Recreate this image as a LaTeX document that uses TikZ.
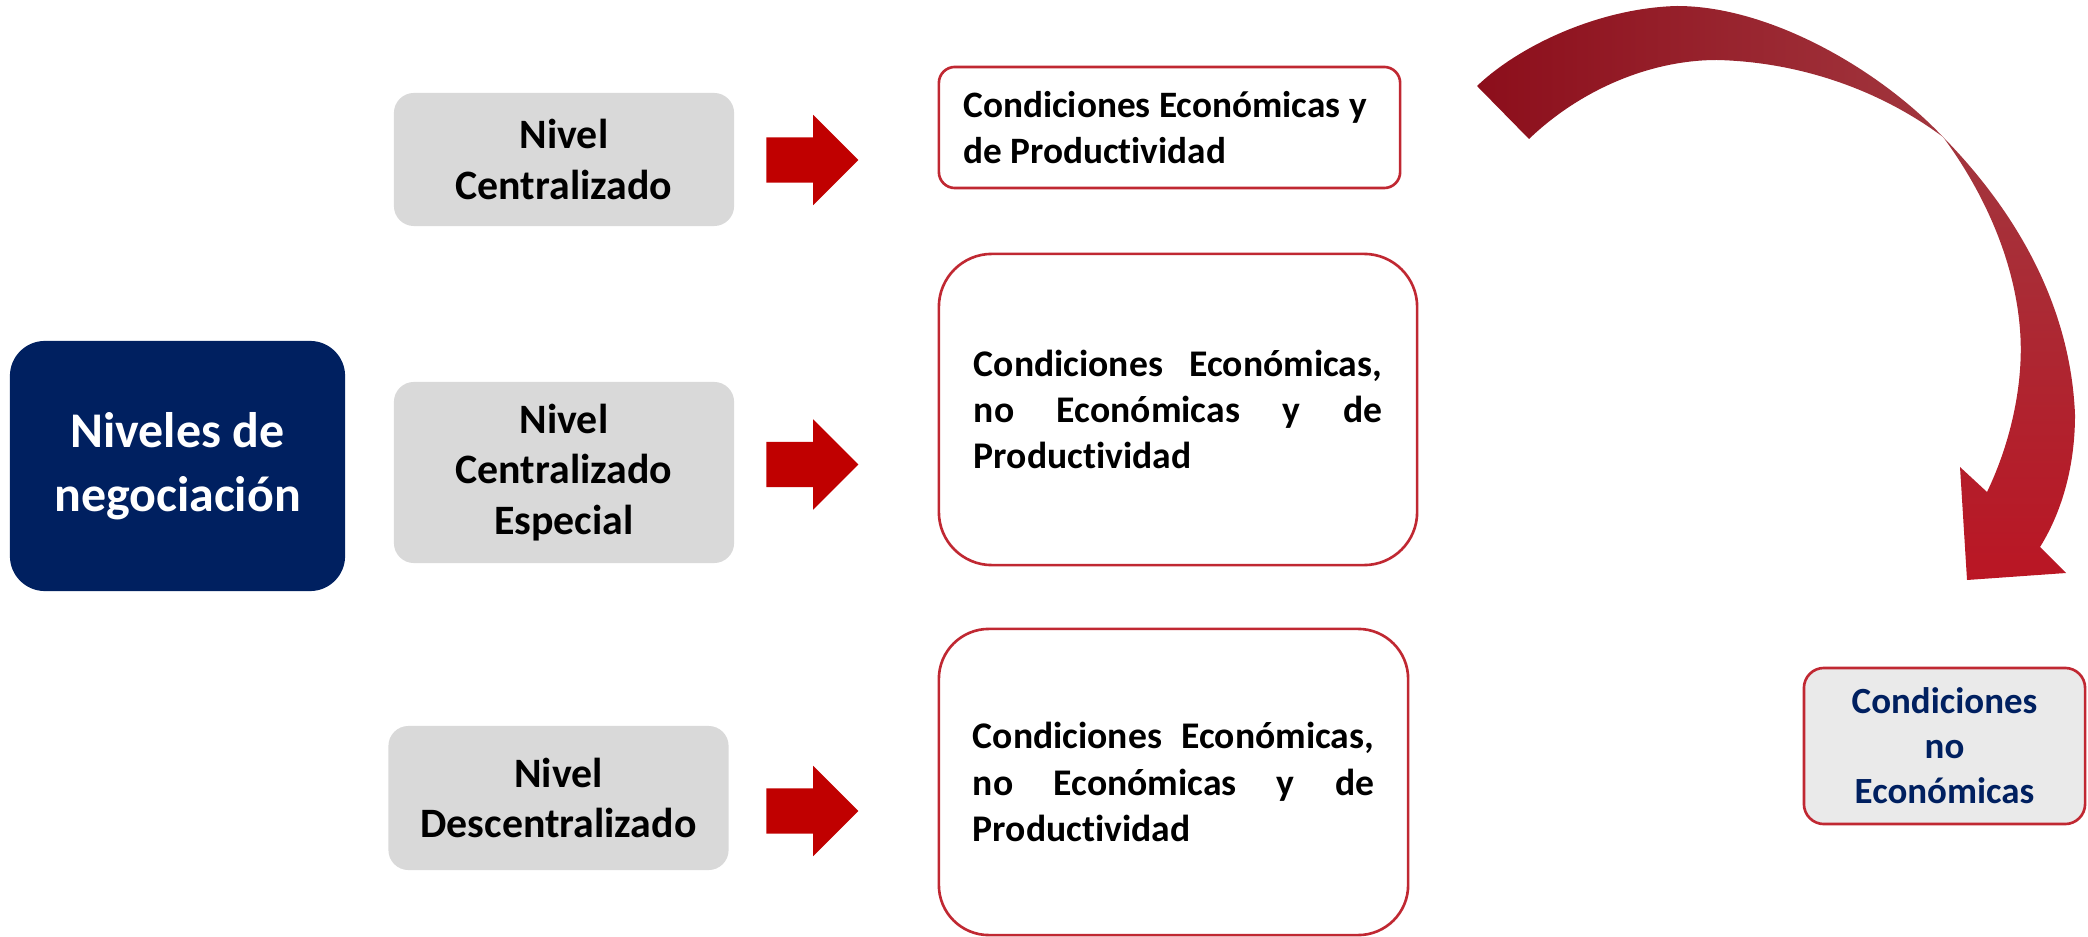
\documentclass[tikz,border=0pt]{standalone}
\usepackage{fontspec}
\setmainfont{Carlito}[Ligatures=NoCommon]
\usetikzlibrary{shapes.arrows}

\definecolor{azulnivel}{RGB}{0,32,96}
\definecolor{grisnivel}{RGB}{217,217,217}
\definecolor{grisclaro}{RGB}{234,234,234}
\definecolor{rojoflecha}{RGB}{192,0,0}
\definecolor{rojoborde}{RGB}{192,40,50}
\definecolor{curvaA}{RGB}{140,14,27}
\definecolor{curvaB}{RGB}{200,70,80}
\definecolor{curvaC}{RGB}{186,22,36}
\definecolor{curvaD}{RGB}{162,54,62}

\tikzset{
  nivel/.style={fill=grisnivel, rounded corners=0.2cm, inner sep=0pt,
    minimum width=3.4cm, text width=3.3cm, align=flush center,
    font=\fontsize{11.9}{14.4}\selectfont\bfseries},
  condicion/.style={draw=rojoborde, line width=0.75pt, fill=white, inner sep=0pt,
    font=\fontsize{10.7}{13.1}\selectfont\bfseries},
  flecha/.style={single arrow, fill=rojoflecha, inner sep=0.22cm,
    minimum height=0.92cm, single arrow head extend=0.225cm}
}

\begin{document}
\begin{tikzpicture}[x=0.01cm, y=-0.01cm]
\useasboundingbox (0,0) rectangle (2088,937);

% Nodo principal
\node[fill=azulnivel, rounded corners=0.35cm, inner sep=0pt,
  minimum width=3.35cm, minimum height=2.5cm, text width=3.2cm, align=flush center,
  text=white, font=\fontsize{14.2}{18.2}\selectfont\bfseries]
  (niveles) at (177.5,466) {Niveles de\\negociación};

% Niveles
\node[nivel, minimum height=1.33cm] (central) at (564,159.5) {Nivel\\Centralizado};
\node[nivel, minimum height=1.81cm] (especial) at (564,472.5) {Nivel\\Centralizado\\Especial};
\node[nivel, minimum height=1.44cm] (descentral) at (558.5,798) {Nivel\\Descentralizado};

% Flechas
\foreach \y/\n in {160/1, 464.5/2, 811/3} {
    \node[flecha] (flecha\n) at (801,\y) {};
}

% Condiciones
\node[condicion, rounded corners=0.16cm, minimum width=4.61cm, minimum height=1.21cm,
  text width=4.12cm, align=flush left, font=\fontsize{10.6}{13.1}\selectfont\bfseries]
  (cond1) at (1169.5,127.5) {Condiciones Económicas y\\de Productividad};
\node[condicion, rounded corners=0.53cm, minimum width=4.78cm, minimum height=3.11cm,
  text width=4.08cm, align=justify]
  (cond2) at (1178,409.5) {Condiciones Económicas,\linebreak no Económicas y de\linebreak Productividad};
\node[condicion, rounded corners=0.5cm, minimum width=4.69cm, minimum height=3.06cm,
  text width=4.01cm, align=justify]
  (cond3) at (1173.5,782) {Condiciones Económicas,\linebreak no Económicas y de\linebreak Productividad};

\node[condicion, fill=grisclaro, rounded corners=0.2cm, minimum width=2.81cm,
  minimum height=1.56cm, text width=2.6cm, align=flush center, text=azulnivel,
  font=\fontsize{10.5}{12.8}\selectfont\bfseries]
  (noecon) at (1944.5,746) {Condiciones\\no\\Económicas};

% Flecha curva: tramo superior
\coordinate (cruce) at (1943,137);
\shade[left color=curvaA, right color=curvaD]
  (1477,86) .. controls (1520,45) and (1600,8) .. (1677,6)
  .. controls (1770,6) and (1880,70) .. (cruce)
  .. controls (1880,90) and (1800,62) .. (1717,60)
  .. controls (1650,60) and (1580,90) .. (1529,139) -- cycle;
% Flecha curva: tramo derecho con punta
\shade[top color=curvaD, middle color=curvaB, bottom color=curvaC]
  (cruce) .. controls (2000,195) and (2070,290) .. (2075,415)
  .. controls (2075,470) and (2060,515) .. (2040,547)
  -- (2066,573) -- (1967,580) -- (1960,467) -- (1987,492)
  .. controls (2012,440) and (2024,380) .. (2020,330)
  .. controls (2014,250) and (1975,180) .. (cruce) -- cycle;

\end{tikzpicture}
\end{document}
